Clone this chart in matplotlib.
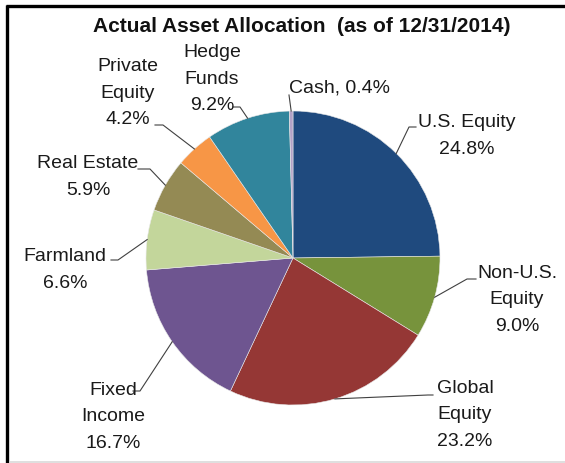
import numpy as np
import matplotlib.pyplot as plt

W, H = 565, 464

names = ['U.S. Equity', 'Non-U.S.\nEquity', 'Global\nEquity', 'Fixed\nIncome',
         'Farmland', 'Real Estate', 'Private\nEquity', 'Hedge\nFunds', 'Cash,']
values = [24.8, 9.0, 23.2, 16.7, 6.6, 5.9, 4.2, 9.2, 0.4]
colors = ['#1F4A7E', '#77933C', '#953735', '#6E5590', '#C3D69B',
          '#948A54', '#F79646', '#31859C', '#B3A2C7']

# label layout in image pixels (from top-left): text centre, leader start, leader elbow
text_xy = [(467, 136), (517, 300), (465, 415), (113, 417), (65, 270),
           (88, 177), (128, 93), (212, 79), (339, 88)]
leader = [((416, 128), (409, 128)), ((476, 280), (467, 280)), ((433, 396), (428, 396)),
          ((133, 392), (140, 392)), ((111, 261), (118, 261)), ((138, 170), (150, 170)),
          ((155, 126), (163, 126)), ((233, 108), (240, 108)), ((289, 96), (289, 96))]

plt.rcParams['font.family'] = ['Liberation Sans', 'DejaVu Sans']

fig = plt.figure(figsize=(W / 100, H / 100), dpi=100)
ax = fig.add_axes([0, 0, 1, 1])

def py(y):
    return H - y

wedges, _ = ax.pie(values, colors=colors, startangle=90, counterclock=False,
                   center=(293, py(259)), radius=147,
                   wedgeprops=dict(edgecolor='#e8e8e8', linewidth=0.4))

for w, name, v, (tx, ty), (p0, p1) in zip(wedges, names, values, text_xy, leader):
    mid = np.deg2rad((w.theta1 + w.theta2) / 2)
    ex = w.center[0] + w.r * np.cos(mid)
    ey = w.center[1] + w.r * np.sin(mid)
    ax.plot([p0[0], p1[0], ex], [py(p0[1]), py(p1[1]), ey], color='#404040', lw=0.8)
    if name.startswith('Cash'):
        label = f'{name} {v:.1f}%'
    else:
        label = f'{name}\n{v:.1f}%'
    ax.text(tx, py(ty), label, ha='center', va='center', fontsize=14,
            linespacing=1.72, color='#1a1a1a')

ax.text(302, py(26), 'Actual Asset Allocation  (as of 12/31/2014)', ha='center',
        va='center', fontsize=15, fontweight='bold', color='#111111')

# outer frame
ax.plot([6, W], [py(7), py(7)], color='black', lw=2.4, solid_capstyle='butt')
ax.plot([7, 7], [py(6), 0], color='black', lw=2.4, solid_capstyle='butt')
ax.plot([10, W], [py(462.5), py(462.5)], color='#d9d9d9', lw=1.2)

ax.set_xlim(0, W)
ax.set_ylim(0, H)
ax.set_aspect('equal')
ax.axis('off')

fig.savefig('out.png', dpi=100)
